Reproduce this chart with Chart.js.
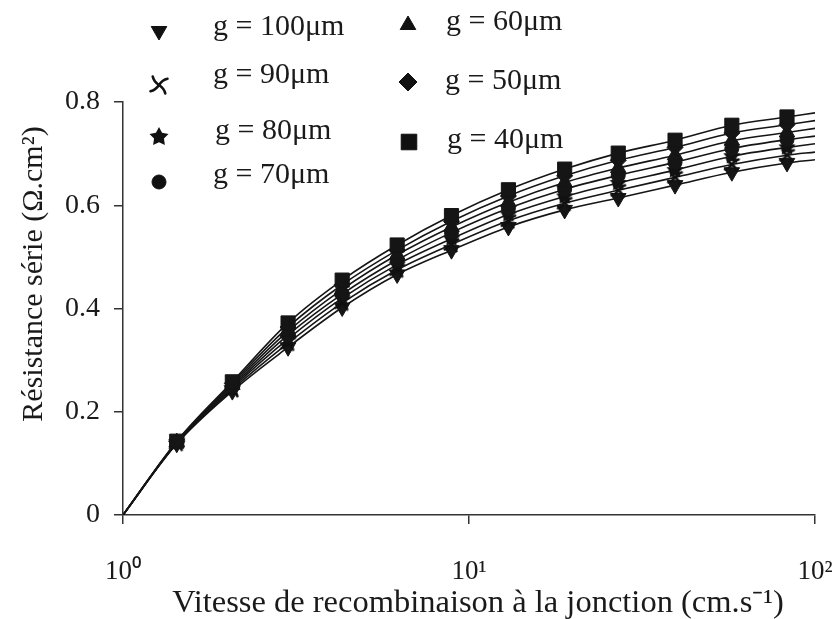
<!DOCTYPE html>
<html><head><meta charset="utf-8">
<script src="https://cdn.jsdelivr.net/npm/chart.js@4/dist/chart.umd.min.js"></script>
<style>html,body{margin:0;padding:0;background:#fff}#wrap{width:832px;height:619px}</style>
</head><body><div id="wrap"><canvas id="c" width="832" height="619"></canvas></div>
<script>
// ---- data ----
const velocity = [1, 1.43, 2.07, 3.0, 4.3, 6.2, 8.9, 13, 18.9, 27, 39.4, 57.5, 83, 100];
const g40  = [0, 0.143, 0.258, 0.372, 0.455, 0.523, 0.580, 0.630, 0.670, 0.701, 0.726, 0.755, 0.771, 0.779];
const g50  = [0, 0.142, 0.255, 0.364, 0.446, 0.513, 0.569, 0.618, 0.657, 0.687, 0.712, 0.740, 0.756, 0.764];
const g60  = [0, 0.141, 0.252, 0.356, 0.437, 0.504, 0.558, 0.606, 0.644, 0.672, 0.697, 0.725, 0.741, 0.749];
const g70  = [0, 0.141, 0.249, 0.349, 0.428, 0.494, 0.547, 0.594, 0.631, 0.658, 0.683, 0.710, 0.727, 0.734];
const g80  = [0, 0.140, 0.246, 0.341, 0.420, 0.485, 0.535, 0.582, 0.617, 0.643, 0.668, 0.695, 0.712, 0.719];
const g90  = [0, 0.139, 0.243, 0.333, 0.411, 0.475, 0.524, 0.570, 0.604, 0.629, 0.654, 0.679, 0.697, 0.703];
const g100 = [0, 0.138, 0.240, 0.325, 0.402, 0.466, 0.513, 0.558, 0.591, 0.614, 0.639, 0.664, 0.682, 0.688];
const seriesLabels = ['g = 40μm', 'g = 50μm', 'g = 60μm', 'g = 70μm', 'g = 80μm', 'g = 90μm', 'g = 100μm'];
const xTickValues = [1, 10, 100];
const xTickLabels = ['10⁰', '10¹', '10²'];
const yTickLabels = ['0', '0.2', '0.4', '0.6', '0.8'];
const xTitle = 'Vitesse de recombinaison à la jonction (cm.s⁻¹)';
const yTitle = 'Résistance série (Ω.cm²)';

// ---- custom marker images ----
function makeStar(s) {
  const c = document.createElement('canvas'); c.width = s; c.height = s;
  const x = c.getContext('2d'); x.fillStyle = '#111'; x.beginPath();
  const R = s / 2, r = s * 0.26;
  for (let i = 0; i < 10; i++) {
    const a = -Math.PI / 2 + i * Math.PI / 5, rr = i % 2 ? r : R;
    x.lineTo(s / 2 + rr * Math.cos(a), s / 2 + rr * Math.sin(a));
  }
  x.closePath(); x.fill(); return c;
}
function makeThrowStar(s) {
  const c = document.createElement('canvas'); c.width = s; c.height = s;
  const x = c.getContext('2d'); x.strokeStyle = '#111'; x.lineWidth = 2.6; x.lineCap = 'round';
  const m = s / 2, L = s * 0.44;
  for (let i = 0; i < 4; i++) {
    const a = Math.PI / 4 + i * Math.PI / 2 + 0.15;
    x.beginPath(); x.moveTo(m, m);
    x.quadraticCurveTo(m + L * 0.6 * Math.cos(a - 0.35), m + L * 0.6 * Math.sin(a - 0.35),
                       m + L * Math.cos(a), m + L * Math.sin(a));
    x.stroke();
  }
  return c;
}
const starImg = makeStar(18);
const pinImg = makeThrowStar(19);
const starLegend = makeStar(20);
const pinLegend = makeThrowStar(24);

const seriesData = [g40, g50, g60, g70, g80, g90, g100];
const styles = [
  {pointStyle: 'rect', r: 10, rot: 0, leg: 'rect', lr: 11},
  {pointStyle: 'rectRot', r: 8, rot: 0, leg: 'rectRot', lr: 9},
  {pointStyle: 'triangle', r: 9, rot: 0, leg: 'triangle', lr: 9},
  {pointStyle: 'circle', r: 7, rot: 0, leg: 'circle', lr: 7},
  {pointStyle: starImg, r: 9, rot: 0, leg: starLegend, lr: 10},
  {pointStyle: pinImg, r: 10, rot: 0, leg: pinLegend, lr: 12},
  {pointStyle: 'triangle', r: 9, rot: 180, leg: 'triangle', lr: 9}
];
const datasets = seriesData.map((vals, i) => ({
  label: seriesLabels[i],
  data: velocity.map((v, j) => ({x: v, y: vals[j]})),
  borderColor: '#151515', backgroundColor: '#151515',
  borderWidth: 1.6,
  pointStyle: styles[i].pointStyle,
  pointRotation: styles[i].rot,
  pointRadius: velocity.map((v, j) => (j === 0 || j === velocity.length - 1) ? 0 : styles[i].r),
  pointBorderWidth: 1,
  cubicInterpolationMode: 'monotone'
}));

const legendItems = [
  // dataset index, marker x, marker y, text x, text y
  [6, 159, 31, 213, 27],
  [5, 159, 85, 213, 75],
  [4, 159, 137, 215, 131],
  [3, 159, 182, 213, 175],
  [2, 408, 25, 446, 22],
  [1, 408, 82, 445, 81],
  [0, 409, 142, 447, 140]
];
const textPlugin = {
  id: 'customText',
  afterDraw(chart) {
    const ctx = chart.ctx;
    ctx.save();
    ctx.font = '30px "Liberation Serif"';
    ctx.textBaseline = 'middle'; ctx.textAlign = 'left';
    legendItems.forEach(([di, mx, my, tx, ty]) => {
      const ds = chart.data.datasets[di];
      const st = styles[di];
      ctx.fillStyle = '#111'; ctx.strokeStyle = '#111'; ctx.lineWidth = 1;
      Chart.helpers.drawPoint(ctx, {pointStyle: st.leg, rotation: st.rot, radius: st.lr, borderWidth: 1}, mx, my);
      ctx.fillStyle = '#1a1a1a';
      ctx.fillText(ds.label, tx, ty);
    });
    // axis titles
    ctx.fillStyle = '#1a1a1a';
    ctx.textAlign = 'center'; ctx.textBaseline = 'middle';
    ctx.font = '32.5px "Liberation Serif"';
    ctx.fillText(xTitle, 478, 603);
    ctx.translate(34, 274); ctx.rotate(-Math.PI / 2);
    ctx.font = '30px "Liberation Serif"';
    ctx.fillText(yTitle, 0, 0);
    ctx.restore();
  }
};

new Chart(document.getElementById('c'), {
  type: 'line',
  data: {datasets},
  plugins: [textPlugin],
  options: {
    responsive: false, animation: false,
    layout: {padding: {top: 102, right: 17, left: 0, bottom: 0}},
    plugins: {legend: {display: false}, tooltip: {enabled: false}},
    scales: {
      x: {
        type: 'logarithmic', min: 1, max: 100,
        afterBuildTicks: s => { s.ticks = xTickValues.map(v => ({value: v})); },
        afterFit: s => { s.height = 104; s.paddingLeft = 0; s.paddingRight = 0; },
        ticks: {
          callback: (v, i) => xTickLabels[i],
          font: {family: '"Liberation Serif"', size: 27}, color: '#1a1a1a',
          padding: 32, maxRotation: 0, autoSkip: false
        },
        grid: {drawOnChartArea: false, drawTicks: true, tickLength: 9, color: '#333', lineWidth: 1.5},
        border: {color: '#333', width: 1.5}
      },
      y: {
        type: 'linear', min: 0, max: 0.8,
        afterFit: s => { s.width = 123; s.paddingTop = 0; s.paddingBottom = 0; },
        ticks: {
          stepSize: 0.2,
          callback: (v, i) => yTickLabels[i],
          font: {family: '"Liberation Serif"', size: 28}, color: '#1a1a1a', padding: 14
        },
        grid: {drawOnChartArea: false, drawTicks: true, tickLength: 9, color: '#333', lineWidth: 1.5},
        border: {color: '#333', width: 1.5}
      }
    }
  }
});
</script></body></html>
